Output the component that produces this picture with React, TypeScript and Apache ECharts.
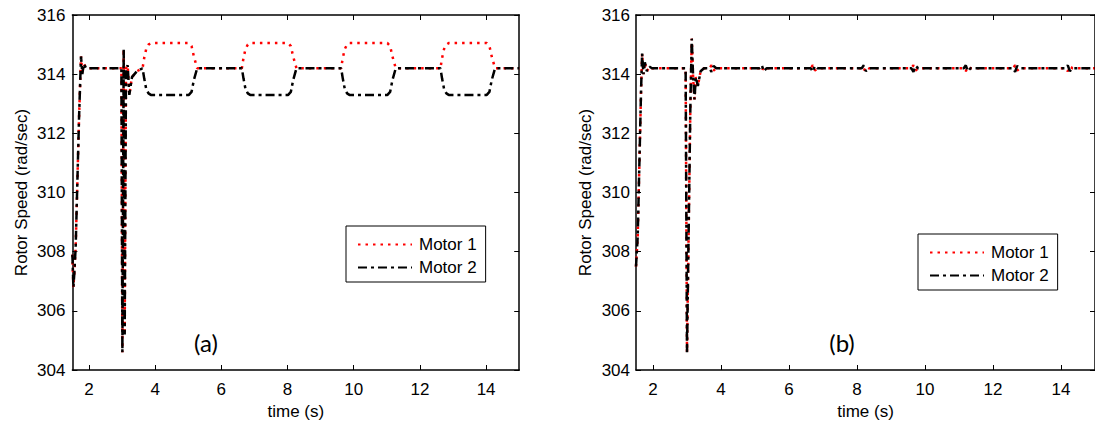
import React, { useEffect, useRef } from "react";
import * as echarts from "echarts";

// ---- data ----
const xTicks = [2, 4, 6, 8, 10, 12, 14];

// (a) time points (s)
const timeA = [
  1.5, 1.53, 1.56, 1.6, 1.63, 1.7, 1.76, 1.8, 1.84, 1.92,
  2.98, 3.01, 3.05, 3.08, 3.12, 3.17, 3.22, 3.3, 3.45, 3.62,
  3.67, 3.73, 3.8, 3.87, 5.02, 5.1, 5.17, 5.27,
  6.62, 6.67, 6.73, 6.8, 6.87, 8.02, 8.1, 8.17, 8.27,
  9.62, 9.67, 9.73, 9.8, 9.87, 11.02, 11.1, 11.17, 11.27,
  12.62, 12.67, 12.73, 12.8, 12.87, 14.02, 14.1, 14.17, 14.27,
  15,
];
const motor1A = [
  307.9, 306.8, 307.3, 308.2, 309.5, 312.5, 314.6, 314.0, 314.35, 314.2,
  314.2, 304.6, 314.85, 305.2, 314.2, 314.3, 313.3, 313.9, 314.1, 314.2,
  314.55, 314.85, 315.0, 315.05, 315.05, 314.95, 314.6, 314.2,
  314.2, 314.55, 314.85, 315.0, 315.05, 315.05, 314.95, 314.6, 314.2,
  314.2, 314.55, 314.85, 315.0, 315.05, 315.05, 314.95, 314.6, 314.2,
  314.2, 314.55, 314.85, 315.0, 315.05, 315.05, 314.95, 314.6, 314.2,
  314.2,
];
const motor2A = [
  307.9, 306.8, 307.3, 308.2, 309.5, 312.5, 314.6, 314.0, 314.35, 314.2,
  314.2, 304.6, 314.85, 305.2, 314.2, 314.3, 313.3, 313.9, 314.1, 314.2,
  313.85, 313.5, 313.35, 313.3, 313.3, 313.4, 313.8, 314.2,
  314.2, 313.85, 313.5, 313.35, 313.3, 313.3, 313.4, 313.8, 314.2,
  314.2, 313.85, 313.5, 313.35, 313.3, 313.3, 313.4, 313.8, 314.2,
  314.2, 313.85, 313.5, 313.35, 313.3, 313.3, 313.4, 313.8, 314.2,
  314.2,
];

// (b) time points (s)
const timeB = [
  1.5, 1.55, 1.6, 1.65, 1.68, 1.72, 1.76, 1.82, 1.9, 1.97,
  2.96, 3.0, 3.1, 3.14, 3.18, 3.22, 3.26, 3.32, 3.4, 3.5,
  3.66, 3.72, 3.78, 3.86,
  5.14, 5.2, 5.26, 5.34,
  6.64, 6.7, 6.76, 6.84,
  8.14, 8.2, 8.26, 8.34,
  9.6, 9.66, 9.72, 9.8,
  11.14, 11.2, 11.26, 11.34,
  12.59, 12.65, 12.71, 12.79,
  14.14, 14.2, 14.26, 14.34,
  15,
];
const motor1B = [
  307.5, 308.5, 311.0, 313.5, 314.7, 314.0, 314.4, 314.1, 314.25, 314.2,
  314.2, 304.6, 313.0, 315.2, 313.9, 313.15, 313.9, 313.6, 314.1, 314.2,
  314.2, 314.3, 314.12, 314.2,
  314.2, 314.1, 314.26, 314.2,
  314.2, 314.3, 314.12, 314.2,
  314.2, 314.1, 314.26, 314.2,
  314.2, 314.3, 314.12, 314.2,
  314.2, 314.1, 314.26, 314.2,
  314.2, 314.3, 314.12, 314.2,
  314.2, 314.1, 314.26, 314.2,
  314.2,
];
const motor2B = [
  307.5, 308.5, 311.0, 313.5, 314.7, 314.0, 314.4, 314.1, 314.25, 314.2,
  314.2, 304.6, 313.0, 315.2, 313.9, 313.15, 313.9, 313.6, 314.1, 314.2,
  314.2, 314.08, 314.28, 314.2,
  314.2, 314.3, 314.1, 314.2,
  314.2, 314.08, 314.28, 314.2,
  314.2, 314.3, 314.1, 314.2,
  314.2, 314.08, 314.28, 314.2,
  314.2, 314.3, 314.1, 314.2,
  314.2, 314.08, 314.28, 314.2,
  314.2, 314.3, 314.1, 314.2,
  314.2,
];

const seriesNames = ["Motor 1", "Motor 2"];
const panelLabels = ["(a)", "(b)"];
const xName = "time (s)";
const yName = "Rotor Speed (rad/sec)";

const FONT = "Liberation Sans, Arial, sans-serif";

function zip(t: number[], v: number[]) {
  return t.map((x, i) => [x, v[i]]);
}

export default function App() {
  const ref = useRef<HTMLDivElement>(null);

  useEffect(() => {
    document.body.style.margin = "0";
    const chart = echarts.init(ref.current!, undefined, { renderer: "svg" });

    const axisLine = { show: true, onZero: false, lineStyle: { color: "#000", width: 1.5 } };

    const bottomX = (gridIndex: number) => ({
      type: "value",
      gridIndex,
      position: "bottom",
      min: 1.5,
      max: 15,
      axisLine,
      axisTick: { show: true, inside: true, length: 5, customValues: xTicks, lineStyle: { color: "#000" } },
      axisLabel: { show: true, customValues: xTicks, color: "#000", fontSize: 17, fontFamily: FONT, margin: 11 },
      splitLine: { show: false },
      name: xName,
      nameLocation: "middle",
      nameGap: 33,
      nameTextStyle: { color: "#000", fontSize: 17, fontFamily: FONT },
    });
    const topX = (gridIndex: number) => ({
      type: "value",
      gridIndex,
      position: "top",
      min: 1.5,
      max: 15,
      axisLine,
      axisTick: { show: true, inside: true, length: 5, customValues: xTicks, lineStyle: { color: "#000" } },
      axisLabel: { show: false },
      splitLine: { show: false },
    });
    const leftY = (gridIndex: number, margin: number, gap: number) => ({
      type: "value",
      gridIndex,
      position: "left",
      min: 304,
      max: 316,
      interval: 2,
      axisLine,
      axisTick: { show: true, inside: true, length: 5, lineStyle: { color: "#000" } },
      axisLabel: { color: "#000", fontSize: 17, fontFamily: FONT, margin },
      splitLine: { show: false },
      name: yName,
      nameLocation: "middle",
      nameGap: gap,
      nameTextStyle: { color: "#000", fontSize: 17, fontFamily: FONT },
    });
    const rightY = (gridIndex: number) => ({
      type: "value",
      gridIndex,
      position: "right",
      min: 304,
      max: 316,
      interval: 2,
      axisLine,
      axisTick: { show: true, inside: true, length: 5, lineStyle: { color: "#000" } },
      axisLabel: { show: false },
      splitLine: { show: false },
    });

    const redStyle = { color: "#ff0000", width: 2.5, type: [2.5, 5] };
    const blackStyle = { color: "#000000", width: 2.5, type: [9, 4, 3, 4] };

    const mk = (name: string, data: number[][], xi: number, yi: number, ls: any, z: number) => ({
      name,
      type: "line",
      xAxisIndex: xi,
      yAxisIndex: yi,
      data,
      symbol: "none",
      showSymbol: false,
      lineStyle: ls,
      itemStyle: { color: ls.color },
      z,
    });

    const legendCommon = {
      orient: "vertical",
      itemWidth: 54,
      itemHeight: 16,
      itemGap: 6,
      backgroundColor: "#fff",
      borderColor: "#000",
      borderWidth: 1,
      borderRadius: 0,
      padding: [10, 9, 6, 11],
      itemStyle: { color: "rgba(0,0,0,0)", borderWidth: 0, opacity: 0 },
      textStyle: { color: "#000", fontSize: 17, fontFamily: FONT, padding: [0, 0, 0, 2] },
      data: seriesNames,
      selectedMode: false,
    };

    chart.setOption({
      animation: false,
      backgroundColor: "#fff",
      grid: [
        { left: 72.4, top: 15, width: 446.8, height: 358 },
        { left: 636, top: 15, width: 465, height: 358 },
      ],
      xAxis: [bottomX(0), topX(0), bottomX(1), topX(1)],
      yAxis: [leftY(0, 7, 42), rightY(0), leftY(1, 6, 42), rightY(1)],
      legend: [
        { ...legendCommon, left: 346, top: 226 },
        { ...legendCommon, left: 918, top: 234 },
      ],
      series: [
        mk(seriesNames[0], zip(timeA, motor1A), 0, 0, redStyle, 2),
        mk(seriesNames[1], zip(timeA, motor2A), 0, 0, blackStyle, 3),
        mk(seriesNames[0], zip(timeB, motor1B), 2, 2, redStyle, 2),
        mk(seriesNames[1], zip(timeB, motor2B), 2, 2, blackStyle, 3),
      ],
      graphic: [
        {
          type: "text",
          x: 206,
          y: 342,
          style: { text: panelLabels[0], fontSize: 24, fontFamily: "Lato, Noto Sans, sans-serif", fill: "#000", align: "center", verticalAlign: "middle" },
        },
        {
          type: "text",
          x: 842,
          y: 342,
          style: { text: panelLabels[1], fontSize: 24, fontFamily: "Lato, Noto Sans, sans-serif", fill: "#000", align: "center", verticalAlign: "middle" },
        },
      ],
    });

    return () => chart.dispose();
  }, []);

  return <div ref={ref} style={{ width: 1095, height: 425 }} />;
}
